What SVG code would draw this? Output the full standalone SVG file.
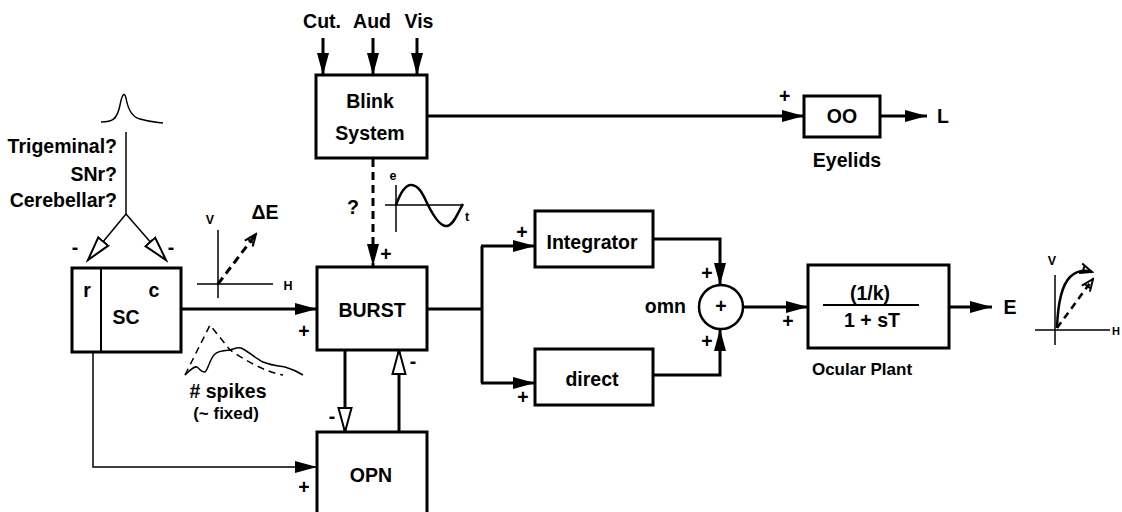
<svg xmlns="http://www.w3.org/2000/svg" width="1122" height="512" viewBox="0 0 1122 512">
<style>
text{font-family:"Liberation Sans",Arial,sans-serif;font-weight:bold;fill:#000}
.t18{font-size:19.5px}
.t16{font-size:17px}
.t12{font-size:12.5px}
.c{text-anchor:middle}
.r{text-anchor:end}
.box{fill:#fff;stroke:#000;stroke-width:3}
.thick{fill:none;stroke:#000;stroke-width:3}
.thin{fill:none;stroke:#000;stroke-width:1.5}
.dash{fill:none;stroke:#000;stroke-width:3;stroke-dasharray:8 5}
</style>
<defs>
<marker id="fa" markerUnits="userSpaceOnUse" markerWidth="24" markerHeight="14" refX="22" refY="7" orient="auto">
<path d="M0,1 L22,7 L0,13 z" fill="#000"/>
</marker>
<marker id="oa" markerUnits="userSpaceOnUse" markerWidth="28" markerHeight="18" refX="25" refY="9" orient="auto">
<path d="M1,2.5 L25,9 L1,15.5 z" fill="#fff" stroke="#000" stroke-width="2"/>
</marker>
<marker id="va" markerUnits="userSpaceOnUse" markerWidth="16" markerHeight="14" refX="14" refY="7" orient="auto">
<path d="M2,2 L14,7 L2,12 M5,3.5 L5,10.5" fill="none" stroke="#000" stroke-width="2"/>
</marker>
</defs>

<g id="connectors">
<path class="thick" d="M323,38 V75" marker-end="url(#fa)"/>
<path class="thick" d="M373,38 V75" marker-end="url(#fa)"/>
<path class="thick" d="M417,38 V75" marker-end="url(#fa)"/>
<path class="thick" d="M427,116 H804" marker-end="url(#fa)"/>
<path class="thick" d="M880,116 H927" marker-end="url(#fa)"/>
<path class="dash" d="M373,159 V266" marker-end="url(#fa)"/>
<path class="thick" d="M181,309 H317" marker-end="url(#fa)"/>
<path class="thin" d="M93,352 V467 H317" marker-end="url(#fa)"/>
<path class="thick" d="M345,350 V432" marker-end="url(#oa)"/>
<path class="thick" d="M399,432 V350" marker-end="url(#oa)"/>
<path class="thick" d="M427,309 H482"/>
<path class="thick" d="M482,246 V383"/>
<path class="thick" d="M481,246 H535" marker-end="url(#fa)"/>
<path class="thick" d="M481,383 H535" marker-end="url(#fa)"/>
<path class="thick" d="M653,239 H720 V285" marker-end="url(#fa)"/>
<path class="thick" d="M653,375 H720 V329" marker-end="url(#fa)"/>
<path class="thick" d="M743,307 H808" marker-end="url(#fa)"/>
<path class="thick" d="M949,307 H992" marker-end="url(#fa)"/>
<path class="thin" d="M126,132 V214"/>
<path class="thin" d="M126,214 L88,260" marker-end="url(#oa)"/>
<path class="thin" d="M126,214 L166,260" marker-end="url(#oa)"/>
</g>

<g id="inputs">
<text class="t18 c" x="322" y="28">Cut.</text>
<text class="t18 c" x="372" y="28">Aud</text>
<text class="t18 c" x="419" y="28">Vis</text>
</g>

<g id="blink">
<rect class="box" x="316" y="75" width="111" height="83"/>
<text class="t18 c" x="370" y="108">Blink</text>
<text class="t18 c" x="370" y="140">System</text>
</g>

<g id="oo">
<rect class="box" x="804" y="96" width="76" height="41"/>
<text class="t18 c" x="842" y="123">OO</text>
<text class="t18" x="779" y="103">+</text>
<text class="t18 c" x="847" y="167">Eyelids</text>
<text class="t18 c" x="943" y="123">L</text>
</g>

<g id="source">
<path class="thin" d="M101,122 C112,122 117,120 120,105 C122,95 124,91 126,98 C128,110 132,117 140,119 C150,122 155,122 163,123"/>
<text class="t18 r" x="117" y="153">Trigeminal?</text>
<text class="t18 r" x="117" y="181">SNr?</text>
<text class="t18 r" x="117" y="207">Cerebellar?</text>
<text class="t18 c" x="75" y="254">-</text>
<text class="t18 c" x="171" y="254">-</text>
</g>

<g id="sc">
<rect class="box" x="72" y="268" width="109" height="84"/>
<path d="M101,268 V352" stroke="#000" stroke-width="2"/>
<text class="t18 c" x="87" y="297">r</text>
<text class="t18 c" x="154" y="297">c</text>
<text class="t18 c" x="126" y="324">SC</text>
</g>

<g id="vector-plot">
<path class="thin" d="M218,230 V298 M197,284 H273"/>
<path class="dash" d="M218,284 L256,234" marker-end="url(#va)"/>
<text class="t12 c" x="210" y="224">V</text>
<text class="t12 c" x="288" y="290">H</text>
<text class="t18 c" x="265" y="219">ΔE</text>
</g>

<g id="spikes">
<path d="M185,375 L210,325 L230,350 C245,360 265,372 283,375" fill="none" stroke="#000" stroke-width="1.5" stroke-dasharray="7 5"/>
<path class="thin" d="M185,375 C190,370 194,366 197,367 C200,369 202,373 205,372 C208,370 210,358 215,354 C220,350 225,351 230,350 C234,349 237,347 241,348 C248,351 255,358 263,362 C270,365 278,366 285,367 C292,369 298,372 303,375"/>
<text class="t18 c" x="228" y="398"># spikes</text>
<text class="t16 c" x="226" y="419">(~ fixed)</text>
</g>

<g id="burst">
<rect class="box" x="317" y="267" width="110" height="83"/>
<text class="t18 c" x="372" y="317">BURST</text>
<text class="t18 c" x="304" y="338">+</text>
<text class="t18 c" x="386" y="261">+</text>
<text class="t18 c" x="353" y="214">?</text>
<text class="t18 c" x="332" y="423">-</text>
<text class="t18 c" x="413" y="368">-</text>
</g>

<g id="sine-plot">
<path class="thin" d="M396,185 V232 M385,205 H463"/>
<path d="M396,205 C401,191 406,184 412,185 C420,186 424,197 428,205 C433,215 440,227 447,226 C454,225 458,212 463,204" fill="none" stroke="#000" stroke-width="2.5"/>
<text class="t12 c" x="393" y="180">e</text>
<text class="t12 c" x="467" y="221">t</text>
</g>

<g id="opn">
<path class="box" d="M317,520 V432 H427 V520"/>
<text class="t18 c" x="371" y="482">OPN</text>
<text class="t18 c" x="304" y="494">+</text>
</g>

<g id="integrator">
<rect class="box" x="535" y="211" width="118" height="56"/>
<text class="t18 c" x="592" y="249">Integrator</text>
<text class="t18 c" x="522" y="239">+</text>
</g>

<g id="direct">
<rect class="box" x="535" y="349" width="118" height="56"/>
<text class="t18 c" x="592" y="386">direct</text>
<text class="t18 c" x="523" y="404">+</text>
</g>

<g id="omn">
<circle cx="721" cy="307" r="22" fill="#fff" stroke="#000" stroke-width="2.5"/>
<text class="t18 c" x="721" y="313">+</text>
<text class="t18 r" x="686" y="313">omn</text>
<text class="t18 c" x="707" y="280">+</text>
<text class="t18 c" x="707" y="348">+</text>
</g>

<g id="plant">
<rect class="box" x="808" y="265" width="141" height="83"/>
<path d="M823,305 H919" stroke="#000" stroke-width="2"/>
<text class="t18 c" x="870" y="300">(1/k)</text>
<text class="t18 c" x="872" y="327">1 + sT</text>
<text class="t18 c" x="788" y="328">+</text>
<text class="t16 c" x="862" y="375">Ocular Plant</text>
<text class="t18 c" x="1010" y="314">E</text>
</g>

<g id="trajectory-plot">
<path class="thin" d="M1055,275 V345 M1035,330 H1110"/>
<path d="M1057,328 C1058,300 1062,285 1070,277 C1076,271 1083,269 1092,272" fill="none" stroke="#000" stroke-width="2.5" marker-end="url(#va)"/>
<path d="M1057,328 L1093,279" fill="none" stroke="#000" stroke-width="2.5" stroke-dasharray="7 5" marker-end="url(#va)"/>
<text class="t12 c" x="1052" y="265">V</text>
<text x="1112" y="335" style="font-size:11px">H</text>
</g>
</svg>
